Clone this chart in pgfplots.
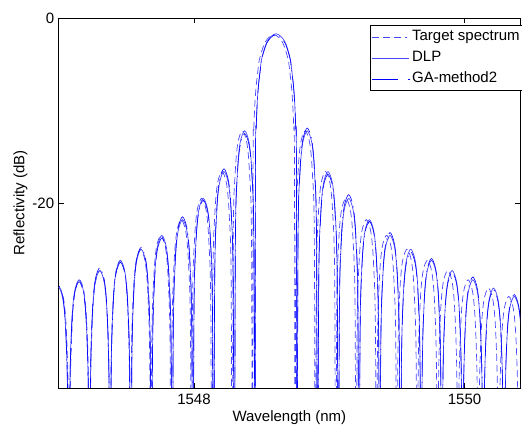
\documentclass[border=0pt]{standalone}
\usepackage{fontspec}
\setmainfont{Liberation Sans}
\usepackage{pgfplots}
\pgfplotsset{compat=1.18}
\usepackage{pgfplotstable}

\pgfplotstableread{
x y
1546.928 -60
1546.9355 -41.1
1546.9505 -33.6
1546.970 -30.4
1547.003 -29.1
1547.0365 -30.4
1547.056 -33.6
1547.071 -41.1
1547.0785 -60
1547.086 -40.3
1547.101 -32.8
1547.1205 -29.6
1547.1535 -28.3
1547.187 -29.6
1547.2065 -32.8
1547.2215 -40.3
1547.229 -60
1547.2365 -39.3
1547.2515 -31.8
1547.271 -28.6
1547.304 -27.3
1547.3375 -28.6
1547.357 -31.8
1547.372 -39.3
1547.3795 -60
1547.387 -38.2
1547.402 -30.7
1547.4215 -27.5
1547.4545 -26.2
1547.488 -27.5
1547.5075 -30.7
1547.5225 -38.2
1547.530 -60
1547.5375 -37.0
1547.5525 -29.5
1547.572 -26.3
1547.605 -25.0
1547.6385 -26.3
1547.658 -29.5
1547.673 -37.0
1547.6805 -60
1547.688 -35.5
1547.703 -28.0
1547.7225 -24.8
1547.7555 -23.5
1547.789 -24.8
1547.8085 -28.0
1547.8235 -35.5
1547.831 -60
1547.8385 -33.8
1547.8535 -26.3
1547.873 -23.1
1547.906 -21.8
1547.9395 -23.1
1547.959 -26.3
1547.974 -33.8
1547.9815 -60
1547.989 -31.5
1548.004 -24.0
1548.0235 -20.8
1548.0565 -19.5
1548.090 -20.8
1548.1095 -24.0
1548.1245 -31.5
1548.132 -60
1548.1395 -28.6
1548.1545 -21.1
1548.174 -17.9
1548.207 -16.6
1548.2405 -17.9
1548.260 -21.1
1548.275 -28.6
1548.2825 -60
1548.290 -24.2
1548.305 -16.7
1548.3245 -13.5
1548.3575 -12.2
1548.391 -13.5
1548.4105 -16.7
1548.4255 -24.2
1548.433 -60
1548.437 -16
1548.443 -11.7
1548.451 -9.1
1548.460 -7.3
1548.471 -5.9
1548.482 -4.6
1548.501 -3.6
1548.523 -2.7
1548.553 -2.1
1548.590 -1.8
1548.627 -2.1
1548.657 -2.7
1548.679 -3.6
1548.698 -4.6
1548.709 -5.9
1548.720 -7.3
1548.729 -9.1
1548.737 -11.7
1548.743 -16
1548.747 -60
1548.7545 -24.2
1548.7695 -16.7
1548.789 -13.5
1548.822 -12.2
1548.8555 -13.5
1548.875 -16.7
1548.890 -24.2
1548.8975 -60
1548.905 -28.6
1548.920 -21.1
1548.9395 -17.9
1548.9725 -16.6
1549.006 -17.9
1549.0255 -21.1
1549.0405 -28.6
1549.048 -60
1549.0555 -31.5
1549.0705 -24.0
1549.090 -20.8
1549.123 -19.5
1549.1565 -20.8
1549.176 -24.0
1549.191 -31.5
1549.1985 -60
1549.206 -33.8
1549.221 -26.3
1549.2405 -23.1
1549.2735 -21.8
1549.307 -23.1
1549.3265 -26.3
1549.3415 -33.8
1549.349 -60
1549.3565 -35.5
1549.3715 -28.0
1549.391 -24.8
1549.424 -23.5
1549.4575 -24.8
1549.477 -28.0
1549.492 -35.5
1549.4995 -60
1549.507 -37.0
1549.522 -29.5
1549.5415 -26.3
1549.5745 -25.0
1549.608 -26.3
1549.6275 -29.5
1549.6425 -37.0
1549.650 -60
1549.6575 -38.2
1549.6725 -30.7
1549.692 -27.5
1549.725 -26.2
1549.7585 -27.5
1549.778 -30.7
1549.793 -38.2
1549.8005 -60
1549.808 -39.3
1549.823 -31.8
1549.8425 -28.6
1549.8755 -27.3
1549.909 -28.6
1549.9285 -31.8
1549.9435 -39.3
1549.951 -60
1549.9585 -40.3
1549.9735 -32.8
1549.993 -29.6
1550.026 -28.3
1550.0595 -29.6
1550.079 -32.8
1550.094 -40.3
1550.1015 -60
1550.109 -41.2
1550.124 -33.7
1550.1435 -30.5
1550.1765 -29.2
1550.210 -30.5
1550.2295 -33.7
1550.2445 -41.2
1550.252 -60
1550.2595 -42.1
1550.2745 -34.6
1550.294 -31.4
1550.327 -30.1
1550.3605 -31.4
1550.380 -34.6
1550.395 -42.1
1550.4025 -60
1550.410 -42.8
1550.425 -35.3
1550.4445 -32.1
1550.4775 -30.8
}\target

\pgfplotstableread{
x dlp ga
1546.921 -60 -60
1546.929 -41.1 -40.9
1546.944 -33.6 -33.4
1546.964 -30.4 -30.2
1546.9975 -29.1 -28.9
1547.031 -30.4 -30.2
1547.051 -33.6 -33.4
1547.066 -41.1 -40.9
1547.074 -60 -60
1547.082 -40.3 -40.5
1547.097 -32.8 -33.0
1547.117 -29.6 -29.8
1547.1505 -28.3 -28.5
1547.184 -29.6 -29.8
1547.204 -32.8 -33.0
1547.219 -40.3 -40.5
1547.227 -60 -60
1547.235 -39.3 -39.0
1547.250 -31.8 -31.5
1547.270 -28.6 -28.3
1547.3035 -27.3 -27.0
1547.337 -28.6 -28.3
1547.357 -31.8 -31.5
1547.372 -39.3 -39.0
1547.380 -60 -60
1547.388 -38.2 -38.4
1547.403 -30.7 -30.9
1547.423 -27.5 -27.7
1547.4565 -26.2 -26.4
1547.490 -27.5 -27.7
1547.510 -30.7 -30.9
1547.525 -38.2 -38.4
1547.533 -60 -60
1547.541 -37.0 -36.8
1547.556 -29.5 -29.3
1547.576 -26.3 -26.1
1547.6095 -25.0 -24.8
1547.643 -26.3 -26.1
1547.663 -29.5 -29.3
1547.678 -37.0 -36.8
1547.686 -60 -60
1547.694 -35.5 -35.8
1547.709 -28.0 -28.3
1547.729 -24.8 -25.1
1547.7625 -23.5 -23.8
1547.796 -24.8 -25.1
1547.816 -28.0 -28.3
1547.831 -35.5 -35.8
1547.839 -60 -60
1547.847 -33.8 -33.5
1547.862 -26.3 -26.0
1547.882 -23.1 -22.8
1547.9155 -21.8 -21.5
1547.949 -23.1 -22.8
1547.969 -26.3 -26.0
1547.984 -33.8 -33.5
1547.992 -60 -60
1548.000 -31.5 -31.7
1548.015 -24.0 -24.2
1548.035 -20.8 -21.0
1548.0685 -19.5 -19.7
1548.102 -20.8 -21.0
1548.122 -24.0 -24.2
1548.137 -31.5 -31.7
1548.145 -60 -60
1548.153 -28.6 -28.3
1548.168 -21.1 -20.8
1548.188 -17.9 -17.6
1548.2215 -16.6 -16.3
1548.255 -17.9 -17.6
1548.275 -21.1 -20.8
1548.290 -28.6 -28.3
1548.298 -60 -60
1548.306 -24.2 -24.5
1548.321 -16.7 -17.0
1548.341 -13.5 -13.8
1548.3745 -12.2 -12.5
1548.408 -13.5 -13.8
1548.428 -16.7 -17.0
1548.443 -24.2 -24.5
1548.451 -60 -60
1548.4545 -16.0 -16.1
1548.4605 -11.6 -11.7
1548.468 -9.0 -9.1
1548.477 -7.2 -7.3
1548.488 -5.8 -5.9
1548.499 -4.5 -4.6
1548.517 -3.5 -3.6
1548.539 -2.6 -2.7
1548.569 -2.0 -2.1
1548.606 -1.7 -1.8
1548.643 -2.0 -2.1
1548.673 -2.6 -2.7
1548.695 -3.5 -3.6
1548.713 -4.5 -4.6
1548.724 -5.8 -5.9
1548.735 -7.2 -7.3
1548.744 -9.0 -9.1
1548.7515 -11.6 -11.7
1548.7575 -16.0 -16.1
1548.761 -60 -60
1548.769 -24.2 -23.9
1548.784 -16.7 -16.4
1548.804 -13.5 -13.2
1548.8375 -12.2 -11.9
1548.871 -13.5 -13.2
1548.891 -16.7 -16.4
1548.906 -24.2 -23.9
1548.914 -60 -60
1548.922 -28.6 -28.9
1548.937 -21.1 -21.4
1548.957 -17.9 -18.2
1548.9905 -16.6 -16.9
1549.024 -17.9 -18.2
1549.044 -21.1 -21.4
1549.059 -28.6 -28.9
1549.067 -60 -60
1549.075 -31.5 -31.1
1549.090 -24.0 -23.6
1549.110 -20.8 -20.4
1549.1435 -19.5 -19.1
1549.177 -20.8 -20.4
1549.197 -24.0 -23.6
1549.212 -31.5 -31.1
1549.220 -60 -60
1549.228 -33.8 -34.0
1549.243 -26.3 -26.5
1549.263 -23.1 -23.3
1549.2965 -21.8 -22.0
1549.330 -23.1 -23.3
1549.350 -26.3 -26.5
1549.365 -33.8 -34.0
1549.373 -60 -60
1549.381 -35.5 -35.2
1549.396 -28.0 -27.7
1549.416 -24.8 -24.5
1549.4495 -23.5 -23.2
1549.483 -24.8 -24.5
1549.503 -28.0 -27.7
1549.518 -35.5 -35.2
1549.526 -60 -60
1549.534 -37.0 -37.3
1549.549 -29.5 -29.8
1549.569 -26.3 -26.6
1549.6025 -25.0 -25.3
1549.636 -26.3 -26.6
1549.656 -29.5 -29.8
1549.671 -37.0 -37.3
1549.679 -60 -60
1549.687 -38.2 -38.0
1549.702 -30.7 -30.5
1549.722 -27.5 -27.3
1549.7555 -26.2 -26.0
1549.789 -27.5 -27.3
1549.809 -30.7 -30.5
1549.824 -38.2 -38.0
1549.832 -60 -60
1549.840 -39.3 -39.5
1549.855 -31.8 -32.0
1549.875 -28.6 -28.8
1549.9085 -27.3 -27.5
1549.942 -28.6 -28.8
1549.962 -31.8 -32.0
1549.977 -39.3 -39.5
1549.985 -60 -60
1549.993 -40.3 -40.0
1550.008 -32.8 -32.5
1550.028 -29.6 -29.3
1550.0615 -28.3 -28.0
1550.095 -29.6 -29.3
1550.115 -32.8 -32.5
1550.130 -40.3 -40.0
1550.138 -60 -60
1550.146 -41.2 -41.4
1550.161 -33.7 -33.9
1550.181 -30.5 -30.7
1550.2145 -29.2 -29.4
1550.248 -30.5 -30.7
1550.268 -33.7 -33.9
1550.283 -41.2 -41.4
1550.291 -60 -60
1550.299 -42.1 -41.9
1550.314 -34.6 -34.4
1550.334 -31.4 -31.2
1550.3675 -30.1 -29.9
1550.401 -31.4 -31.2
1550.421 -34.6 -34.4
1550.436 -42.1 -41.9
1550.444 -60 -60
}\sims

\definecolor{tgtblue}{RGB}{70,70,255}
\definecolor{dlpblue}{RGB}{70,70,255}
\definecolor{gablue}{RGB}{0,0,255}

\begin{document}
\fontsize{15}{18}\selectfont
\begin{tikzpicture}
\begin{axis}[
  name=ax,
  scale only axis,
  width=461.3pt, height=370pt,
  xmin=1547.0, xmax=1550.41,
  ymin=-40, ymax=0,
  xtick={1548,1550}, xticklabels={1548,1550},
  ytick={-20,0}, yticklabels={-20,0},
  tick align=inside,
  major tick length=5pt,
  tick style={black, line width=0.6pt},
  axis line style={black, line width=0.8pt},
  xticklabel style={anchor=center, inner sep=0pt, yshift=-11pt},
  yticklabel style={anchor=east, inner sep=0pt, xshift=-4.4pt},
  xlabel={Wavelength (nm)},
  ylabel={Reflectivity (dB)},
  every axis x label/.style={at={(axis description cs:0.5,0)}, anchor=center, inner sep=0pt, yshift=-30pt},
  every axis y label/.style={at={(axis description cs:0,0.5)}, rotate=90, anchor=center, inner sep=0pt, yshift=38.3pt},
  legend style={at={(axis description cs:0.675,0.98)}, anchor=north west,
    draw=black, line width=0.8pt, fill=white, inner sep=1.5pt,
    row sep=1.5pt,
    nodes={inner sep=2pt, text height=11.5pt, text depth=4pt}},
  legend cell align=left,
]
\addplot[dash pattern=on 7pt off 4pt, draw=tgtblue, line width=0.7pt, smooth, tension=0.5,
  legend image code/.code={\draw[tgtblue, line width=0.9pt] (0pt,0pt) -- (7pt,0pt) (11pt,0pt) -- (18pt,0pt) (22pt,0pt) -- (29pt,0pt) (33pt,0pt) -- (34.2pt,0pt);}] table[x=x, y=y] {\target};
\addlegendentry{Target spectrum}
\addplot[draw=dlpblue, line width=0.7pt, smooth, tension=0.5,
  legend image code/.code={\draw[dlpblue, line width=0.9pt] (0pt,0pt) -- (37pt,0pt);}] table[x=x, y=dlp] {\sims};
\addlegendentry{DLP}
\addplot[dash pattern=on 26pt off 5pt on 1pt off 5pt, draw=gablue, line width=0.6pt, smooth, tension=0.5,
  legend image code/.code={\draw[gablue, line width=0.9pt] (0pt,0pt) -- (26pt,0pt) (36pt,0pt) -- (37.2pt,0pt);}] table[x=x, y=ga] {\sims};
\addlegendentry{GA-method2}
\end{axis}
\pgfresetboundingbox
\path ([xshift=-58.7pt,yshift=-38pt]ax.south west) rectangle ([xshift=2pt,yshift=18pt]ax.north east);
\end{tikzpicture}
\end{document}
